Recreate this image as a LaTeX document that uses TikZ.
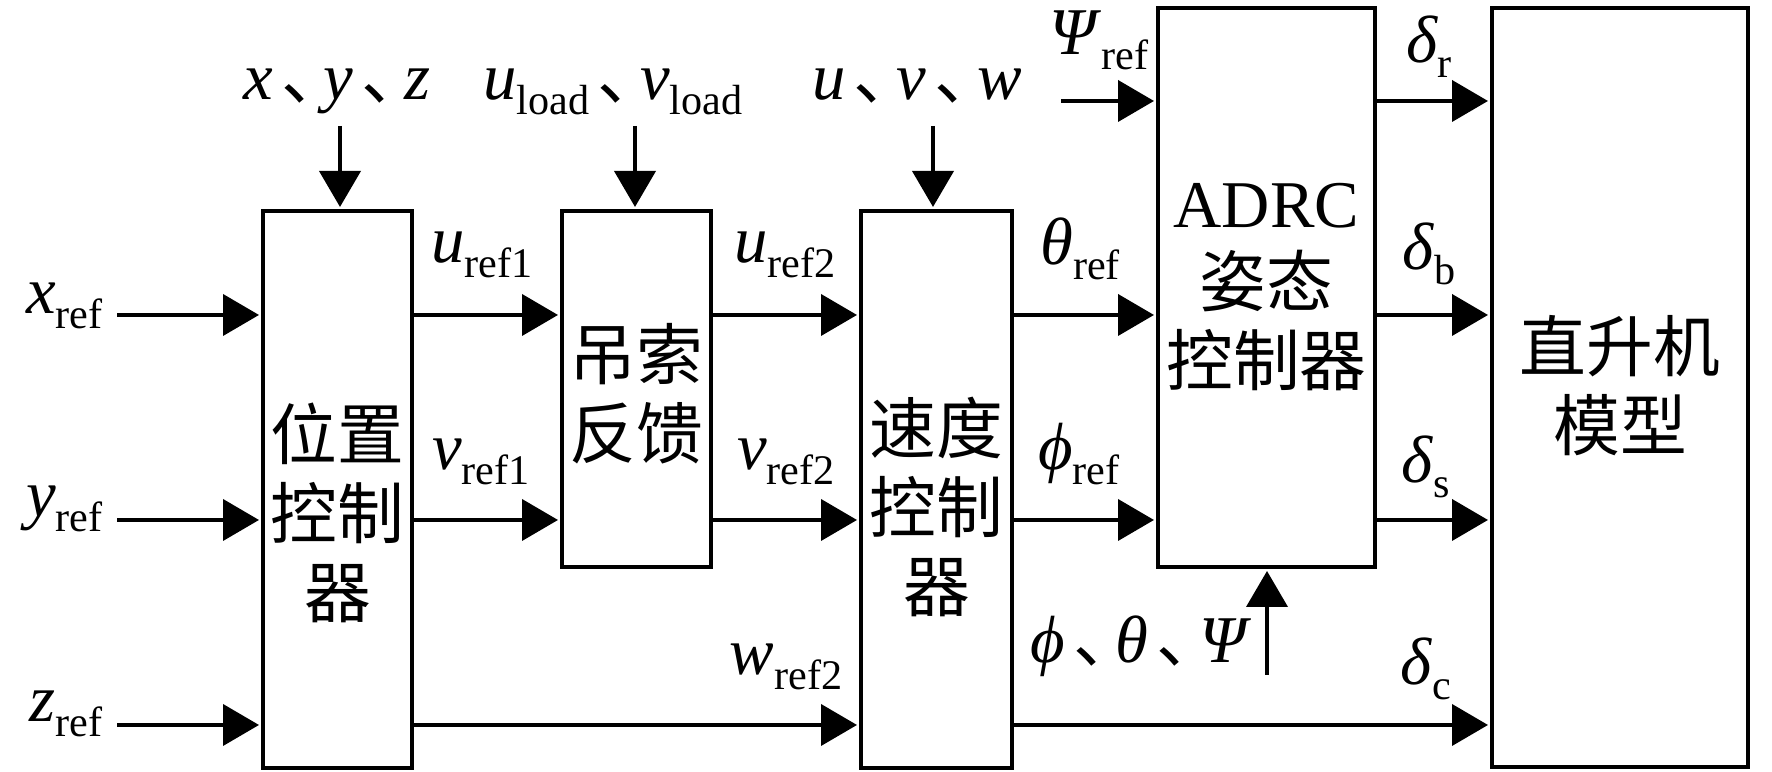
\documentclass[tikz,border=0pt]{standalone}
\usepackage{fontspec}
\setmainfont{Liberation Serif}
\newfontfamily\cjk{Noto Sans CJK SC}
\usetikzlibrary{arrows.meta}

\newcommand{\lsub}[1]{\raisebox{-0.15cm}{\fontsize{12}{12}\selectfont #1}}
\newcommand{\dun}{\hspace{0.08cm}{\cjk 、}\hspace{-0.24cm}}

\begin{document}
\begin{tikzpicture}[
  line join=miter,
  font=\fontsize{19}{22}\selectfont,
  blk/.style={draw, line width=0.04cm, inner sep=0pt},
  txt/.style={align=center, font=\cjk\fontsize{19}{22.5}\selectfont},
  arr/.style={line width=0.04cm, shorten >=0.02cm,
    -{Triangle[length=0.36cm,width=0.41cm]}}
]
  \useasboundingbox (0,0) rectangle (17.72,7.72);

  % 方框
  \node[blk, minimum width=1.49cm, minimum height=5.57cm] (pos)  at ( 3.375,2.825) {};
  \node[blk, minimum width=1.49cm, minimum height=3.56cm] (diao) at ( 6.365,3.83)  {};
  \node[blk, minimum width=1.51cm, minimum height=5.57cm] (vel)  at ( 9.365,2.825) {};
  \node[blk, minimum width=2.17cm, minimum height=5.59cm] (adrc) at (12.665,4.845) {};
  \node[blk, minimum width=2.56cm, minimum height=7.59cm] (heli) at (16.20, 3.845) {};

  % 方框文字
  \node[txt] (posT)  at ( 3.375,2.59) {位置\\控制\\器};
  \node[txt] (diaoT) at ( 6.365,3.78) {吊索\\反馈};
  \node[txt] (velT)  at ( 9.365,2.65) {速度\\控制\\器};
  \node[txt] (adrcT) at (12.665,4.85) {{\rmfamily ADRC}\\姿态\\控制器};
  \node[txt] (heliT) at (16.20, 3.86) {直升机\\模型};

  % 输入端点
  \coordinate (xin)   at ( 1.17,4.57);
  \coordinate (yin)   at ( 1.17,2.52);
  \coordinate (zin)   at ( 1.17,0.47);
  \coordinate (psiIn) at (10.61,6.71);
  \coordinate (xyzIn) at ( 3.40,6.46);
  \coordinate (ldIn)  at ( 6.35,6.46);
  \coordinate (uvwIn) at ( 9.33,6.46);
  \coordinate (attIn) at (12.67,0.97);

  % 位置控制器
  \draw[arr] (xin) -- (pos.west |- xin);
  \draw[arr] (yin) -- (pos.west |- yin);
  \draw[arr] (zin) -- (pos.west |- zin);
  \draw[arr] (xyzIn) -- (xyzIn |- pos.north);

  % 吊索反馈
  \draw[arr] (pos.east |- xin) -- (diao.west |- xin);
  \draw[arr] (pos.east |- yin) -- (diao.west |- yin);
  \draw[arr] (ldIn) -- (ldIn |- diao.north);

  % 速度控制器
  \draw[arr] (diao.east |- xin) -- (vel.west |- xin);
  \draw[arr] (diao.east |- yin) -- (vel.west |- yin);
  \draw[arr] (pos.east |- zin) -- (vel.west |- zin);
  \draw[arr] (uvwIn) -- (uvwIn |- vel.north);

  % ADRC 姿态控制器
  \draw[arr] (psiIn) -- (adrc.west |- psiIn);
  \draw[arr] (vel.east |- xin) -- (adrc.west |- xin);
  \draw[arr] (vel.east |- yin) -- (adrc.west |- yin);
  \draw[arr] (attIn) -- (attIn |- adrc.south);

  % 直升机模型
  \draw[arr] (adrc.east |- psiIn) -- (heli.west |- psiIn);
  \draw[arr] (adrc.east |- xin) -- (heli.west |- xin);
  \draw[arr] (adrc.east |- yin) -- (heli.west |- yin);
  \draw[arr] (vel.east |- zin) -- (heli.west |- zin);

  % 信号标注
  \node[anchor=base east] (xrefL) at (1.15,4.58) {\textit{x}\lsub{ref}};
  \node[anchor=base east] (yrefL) at (1.15,2.55) {\textit{y}\lsub{ref}};
  \node[anchor=base east] (zrefL) at (1.15,0.50) {\textit{z}\lsub{ref}};

  \node[anchor=base] (xyzL) at ( 3.37,6.72) {\textit{x}\dun\textit{y}\dun\textit{z}};
  \node[anchor=base] (ldL)  at ( 6.13,6.72) {\textit{u}\lsub{load}\dun\textit{v}\lsub{load}};
  \node[anchor=base] (uvwL) at ( 9.17,6.72) {\textit{u}\dun\textit{v}\dun\textit{w}};

  \node[anchor=base] (uref1L) at (4.82,5.09) {\textit{u}\lsub{ref1}};
  \node[anchor=base] (vref1L) at (4.81,3.02) {\textit{v}\lsub{ref1}};
  \node[anchor=base] (uref2L) at (7.85,5.09) {\textit{u}\lsub{ref2}};
  \node[anchor=base] (vref2L) at (7.86,3.02) {\textit{v}\lsub{ref2}};
  \node[anchor=base] (wref2L) at (7.86,0.97) {\textit{w}\lsub{ref2}};

  \node[anchor=base] (psirefL) at (10.99,7.17) {\textit{Ψ}\lsub{ref}};
  \node[anchor=base] (threfL)  at (10.80,5.07) {\textit{θ}\lsub{ref}};
  \node[anchor=base] (phrefL)  at (10.79,3.02) {\textit{ϕ}\lsub{ref}};
  \node[anchor=base] (attL)    at (11.41,1.09) {\textit{ϕ}\dun\textit{θ}\dun\textit{Ψ}};

  \node[anchor=base] (drL) at (14.29,7.09) {\textit{δ}\lsub{r}};
  \node[anchor=base] (dbL) at (14.29,5.02) {\textit{δ}\lsub{b}};
  \node[anchor=base] (dsL) at (14.26,2.89) {\textit{δ}\lsub{s}};
  \node[anchor=base] (dcL) at (14.26,0.87) {\textit{δ}\lsub{c}};
\end{tikzpicture}
\end{document}
